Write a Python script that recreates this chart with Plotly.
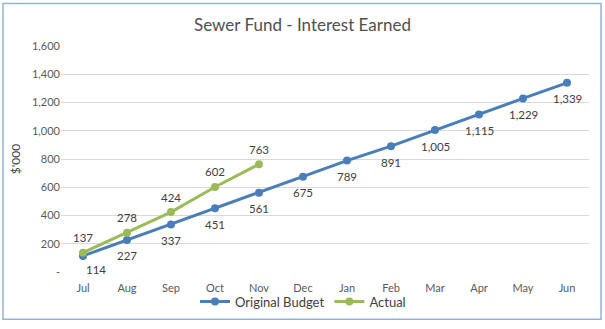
import plotly.graph_objects as go

months = ["Jul", "Aug", "Sep", "Oct", "Nov", "Dec", "Jan", "Feb", "Mar", "Apr", "May", "Jun"]
budget = [114, 227, 337, 451, 561, 675, 789, 891, 1005, 1115, 1229, 1339]
actual_months = ["Jul", "Aug", "Sep", "Oct", "Nov"]
actual = [137, 278, 424, 602, 763]
ytick_vals = [0, 200, 400, 600, 800, 1000, 1200, 1400, 1600]
ytick_text = ["-", "200", "400", "600", "800", "1,000", "1,200", "1,400", "1,600"]

FONT = "Lato"
BLUE = "#4A7EBB"
GREEN = "#9BBB59"
LABEL_FONT = dict(family=FONT, size=11.5, color="#404040")

fig = go.Figure()
fig.add_trace(go.Scatter(
    x=months, y=budget, name="Original Budget", mode="lines+markers",
    line=dict(color=BLUE, width=3), marker=dict(size=8, color=BLUE),
    cliponaxis=False,
))
fig.add_trace(go.Scatter(
    x=actual_months, y=actual, name="Actual", mode="lines+markers",
    line=dict(color=GREEN, width=3), marker=dict(size=8, color=GREEN),
    cliponaxis=False,
))

annotations = []
for i, (m, v) in enumerate(zip(months, budget)):
    annotations.append(dict(x=m, y=v, xref="x", yref="y", text=f"{v:,}",
                            showarrow=False, yshift=-14 if i == 0 else -16,
                            xshift=13 if i == 0 else 0, font=LABEL_FONT))
for m, v in zip(actual_months, actual):
    annotations.append(dict(x=m, y=v, xref="x", yref="y", text=f"{v:,}",
                            showarrow=False, yshift=15, font=LABEL_FONT))

pl, pr, pt, pb = 61, 589, 46, 275
W, H = pr - pl, pb - pt

def px_x(x):
    return (x - pl) / W

def px_y(y):
    return (pb - y) / H

fig.update_layout(
    width=605, height=329,
    margin=dict(l=pl, r=605 - pr, t=pt, b=329 - pb),
    paper_bgcolor="white", plot_bgcolor="white",
    font=dict(family=FONT, color="#595959"),
    title=dict(text="Sewer Fund - Interest Earned", x=0.5, xanchor="center",
               y=1 - 25 / 329, yanchor="middle",
               font=dict(family=FONT, size=17, color="#505050")),
    xaxis=dict(type="category", categoryorder="array", categoryarray=months,
               showgrid=False, showline=False, ticks="", zeroline=False,
               ticklabelstandoff=8,
               tickfont=dict(family=FONT, size=11, color="#595959"),
               range=[-0.5, 11.5]),
    yaxis=dict(range=[0, 1600], tickvals=ytick_vals, ticktext=ytick_text,
               showgrid=True, gridcolor="#D9D9D9", gridwidth=1, zeroline=False,
               showline=False, ticks="",
               tickfont=dict(family=FONT, size=11, color="#595959"),
               title=dict(text="$'000", standoff=8,
                          font=dict(family=FONT, size=12, color="#404040"))),
    legend=dict(orientation="h", x=px_x(303), xanchor="center",
                y=px_y(305), yanchor="middle",
                font=dict(family=FONT, size=13, color="#404040"),
                itemwidth=30, bgcolor="rgba(0,0,0,0)"),
    annotations=annotations,
    showlegend=True,
)
fig.add_shape(type="rect", xref="paper", yref="paper",
              x0=px_x(3), x1=px_x(601), y0=px_y(323), y1=px_y(3),
              line=dict(color="#95B3D7", width=1.5), fillcolor="rgba(0,0,0,0)",
              layer="below")

fig.write_html("out.html")
